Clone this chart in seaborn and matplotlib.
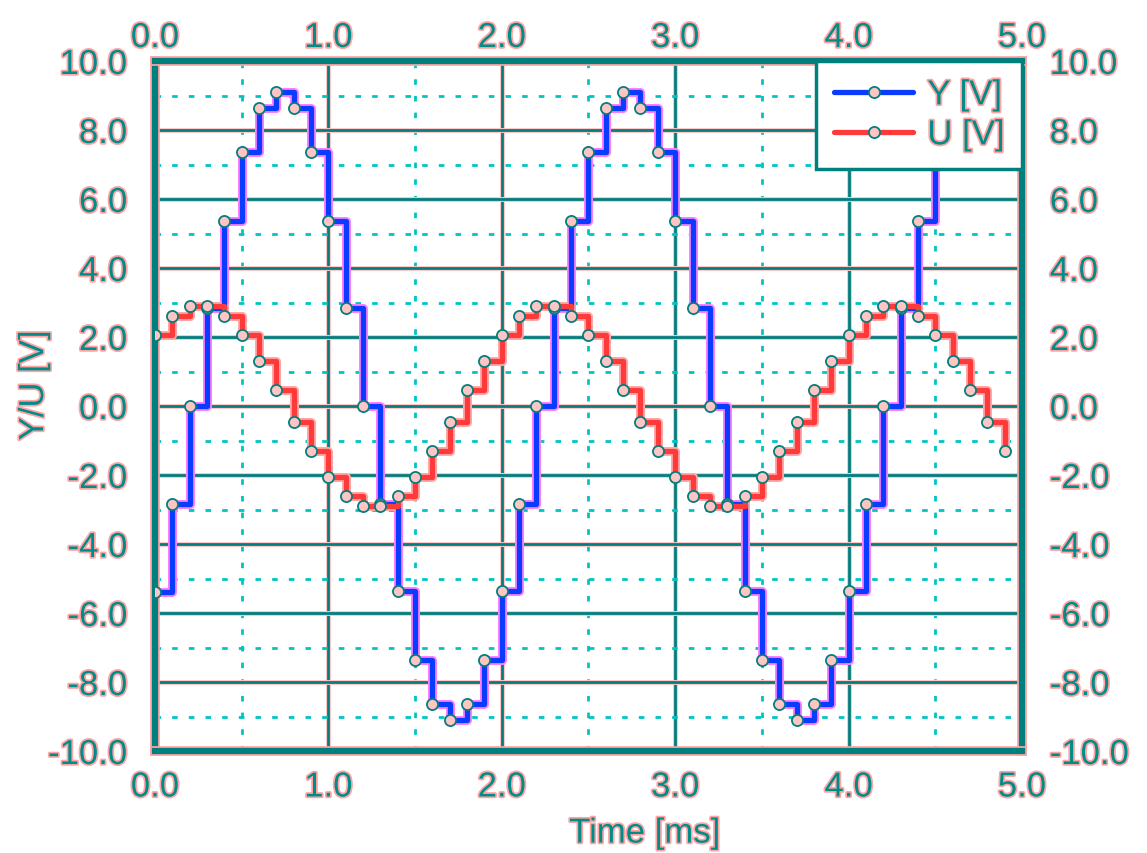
import matplotlib
matplotlib.use("Agg")
import numpy as np
import pandas as pd
import seaborn as sns
from matplotlib import pyplot as plt
from matplotlib import patheffects as pe
from matplotlib.ticker import MultipleLocator, FormatStrFormatter

# sample times [ms]
time_ms = [0.0, 0.1, 0.2, 0.3, 0.4, 0.5, 0.6, 0.7, 0.8, 0.9,
           1.0, 1.1, 1.2, 1.3, 1.4, 1.5, 1.6, 1.7, 1.8, 1.9,
           2.0, 2.1, 2.2, 2.3, 2.4, 2.5, 2.6, 2.7, 2.8, 2.9,
           3.0, 3.1, 3.2, 3.3, 3.4, 3.5, 3.6, 3.7, 3.8, 3.9,
           4.0, 4.1, 4.2, 4.3, 4.4, 4.5, 4.6, 4.7, 4.8, 4.9]

# output Y [V]
y_volt = [-5.4, -2.85, 0.0, 2.85, 5.35, 7.35, 8.65, 9.1, 8.65, 7.35,
          5.35, 2.85, 0.0, -2.85, -5.35, -7.35, -8.65, -9.1, -8.65, -7.35,
          -5.35, -2.85, 0.0, 2.85, 5.35, 7.35, 8.65, 9.1, 8.65, 7.35,
          5.35, 2.85, 0.0, -2.85, -5.35, -7.35, -8.65, -9.1, -8.65, -7.35,
          -5.35, -2.85, 0.0, 2.85, 5.35, 7.35, 8.65, 9.1, 8.65, 7.35]

# input U [V]
u_volt = [2.05, 2.6, 2.9, 2.9, 2.6, 2.05, 1.3, 0.45, -0.45, -1.3,
          -2.05, -2.6, -2.9, -2.9, -2.6, -2.05, -1.3, -0.45, 0.45, 1.3,
          2.05, 2.6, 2.9, 2.9, 2.6, 2.05, 1.3, 0.45, -0.45, -1.3,
          -2.05, -2.6, -2.9, -2.9, -2.6, -2.05, -1.3, -0.45, 0.45, 1.3,
          2.05, 2.6, 2.9, 2.9, 2.6, 2.05, 1.3, 0.45, -0.45, -1.3]

x_ticks = [0.0, 1.0, 2.0, 3.0, 4.0, 5.0]

df = pd.DataFrame({"t": time_ms, "Y": y_volt, "U": u_volt})

sns.set_style("white")
plt.rcParams["font.family"] = ["Liberation Sans", "DejaVu Sans"]
plt.rcParams["axes.unicode_minus"] = False

teal = "#00807c"
cyan = "#00c4c4"
salmon = "#ffa4a4"
txtcol = "#008c88"
txt_fx = [pe.withStroke(linewidth=2.5, foreground=salmon)]
line_fx = [pe.withStroke(linewidth=3.5, foreground="#ffc4c4")]

fig = plt.figure(figsize=(11.47, 8.54), dpi=100)
ax = fig.add_axes([0.1351, 0.1194, 0.7559, 0.808])

mk = dict(marker="o", markersize=8, markeredgecolor=teal,
          markerfacecolor="#ffc4c4", markeredgewidth=1.3)

# halos
sns.lineplot(data=df, x="t", y="Y", ax=ax, color="#ff80ff", lw=6.5,
             drawstyle="steps-post", legend=False, zorder=3)
sns.lineplot(data=df, x="t", y="U", ax=ax, color="#ffa8a8", lw=6.5,
             drawstyle="steps-post", legend=False, zorder=3)
# main lines
sns.lineplot(data=df, x="t", y="Y", ax=ax, color="#0a3cff", lw=3.8,
             drawstyle="steps-post", label="Y [V]", zorder=4, **mk)
sns.lineplot(data=df, x="t", y="U", ax=ax, color="#ff3a3a", lw=3.8,
             drawstyle="steps-post", label="U [V]", zorder=5, **mk)

ax.set_xlim(0, 5)
ax.set_ylim(-10, 10)
ax.set_xticks(x_ticks)
ax.xaxis.set_minor_locator(MultipleLocator(0.5))
ax.set_yticks(np.arange(-10, 10.1, 2.0))
ax.yaxis.set_minor_locator(MultipleLocator(1.0))
ax.xaxis.set_major_formatter(FormatStrFormatter("%.1f"))
ax.yaxis.set_major_formatter(FormatStrFormatter("%.1f"))

ax.grid(which="major", color="#007f7f", lw=2, ls="-", path_effects=line_fx)
ax.grid(which="minor", color=cyan, lw=2, ls=(0, (2, 4)))
ax.set_axisbelow(True)

ax.tick_params(which="both", length=0, right=True, labelright=True,
               labelsize=25, labelcolor=txtcol)
ax.tick_params(axis="x", pad=14)
ax.tick_params(axis="y", pad=20)

# top labels on their own axis (closer to the frame)
top = ax.secondary_xaxis("top")
top.set_xticks(x_ticks)
top.xaxis.set_major_formatter(FormatStrFormatter("%.1f"))
top.tick_params(length=0, pad=5, labelsize=25, labelcolor=txtcol)
top.spines["top"].set_visible(False)

for s in ax.spines.values():
    s.set_color(teal)
    s.set_linewidth(4.5)
    s.set_path_effects([pe.withStroke(linewidth=7, foreground=salmon)])

ax.set_xlabel("Time [ms]", fontsize=25, color=txtcol, path_effects=txt_fx)
ax.set_ylabel("Y/U [V]", fontsize=25, color=txtcol, path_effects=txt_fx)
ax.xaxis.set_label_coords(0.565, -0.095)
ax.yaxis.set_label_coords(-0.121, 0.53)

leg = ax.legend(loc="upper right", borderaxespad=0, fontsize=25,
                handlelength=2.3, handletextpad=0.4, labelspacing=0.2,
                borderpad=0.5, fancybox=False, framealpha=1)
leg.get_frame().set_edgecolor(teal)
leg.get_frame().set_linewidth(2.5)
leg.set_zorder(10)
for t in leg.get_texts():
    t.set_color(txtcol)
    t.set_path_effects(txt_fx)

fig.canvas.draw()
for lbl in (ax.get_xticklabels() + ax.get_yticklabels()
            + top.get_xticklabels()):
    lbl.set_path_effects(txt_fx)

fig.savefig("out.png", dpi=100, facecolor="white")
